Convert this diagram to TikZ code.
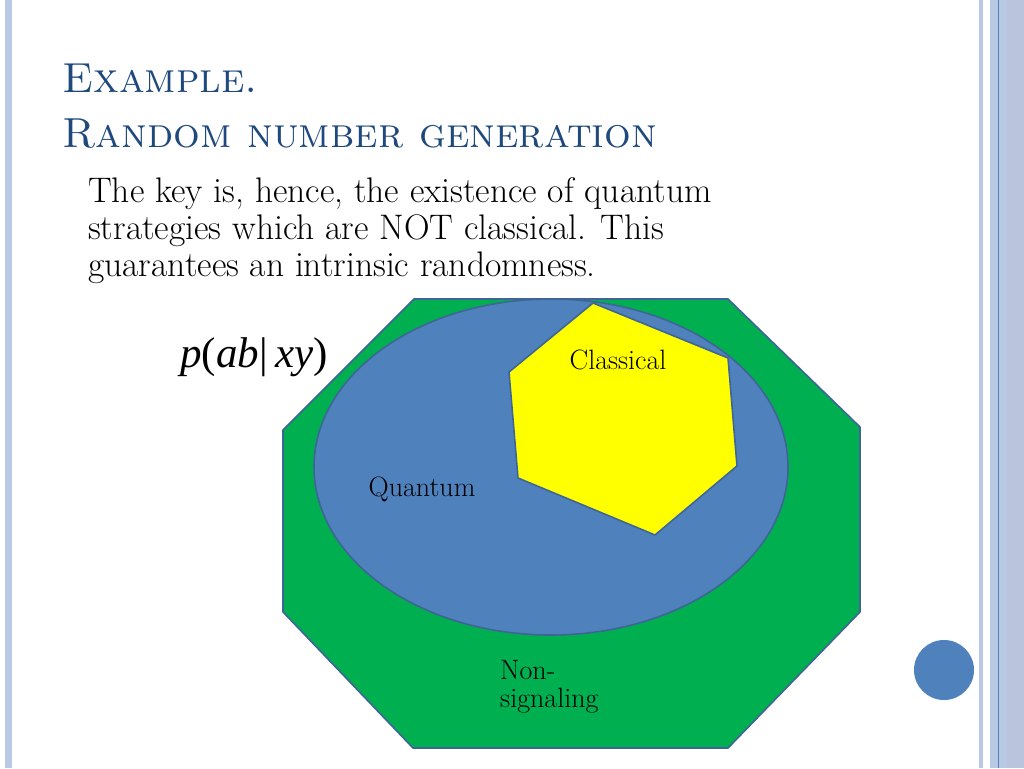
\documentclass[tikz,border=0pt]{standalone}
\usepackage{fontspec}
\newfontfamily\timesfont{Liberation Serif}
\definecolor{titleblue}{HTML}{1F497D}
\definecolor{stripeblue}{HTML}{B9C9E3}
\definecolor{stripegray}{HTML}{BAC5DD}
\definecolor{accentblue}{HTML}{4F81BD}
\definecolor{edgeblue}{HTML}{3E6596}
\definecolor{nsgreen}{HTML}{00B050}
\definecolor{qblue}{HTML}{4F81BD}
\definecolor{clyellow}{HTML}{FFFF00}
\tikzset{
  region/.style={draw=edgeblue, line width=1.6pt, line join=round},
  setlabel/.style={font=\fontsize{28}{28}\selectfont, inner sep=0pt},
  titletext/.style={font=\fontsize{42}{50}\selectfont\scshape, text=titleblue, inner sep=0pt, anchor=base west}
}
\begin{document}
\begin{tikzpicture}[x=1pt, y=-1pt]
    \useasboundingbox (0,0) rectangle (1024,768);
    \fill[white] (0,0) rectangle (1024,768);

    % Slide border
    \fill[stripeblue] (5,0) rectangle (12,768);
    \fill[stripeblue] (979,0) rectangle (983,768);
    \fill[stripeblue] (990,0) rectangle (1007,768);
    \fill[stripegray] (1007,0) rectangle (1024,768);
    \draw[accentblue, line width=1pt] (998,0) -- (998,768);
    \fill[accentblue] (944,670) circle [radius=30];

    % Title and text
    \node[titletext] (title1) at (62,92) {Example.};
    \node[titletext] (title2) at (62,147) {Random number generation};
    \node[font=\fontsize{35.5}{37}\selectfont, align=left, anchor=north west, inner sep=0pt] (body) at (88,177)
        {The key is, hence, the existence of quantum\\
         strategies which are NOT classical. This\\
         guarantees an intrinsic randomness.};

    % Sets of correlations
    \draw[region, fill=nsgreen] (283,430) -- (414,299) -- (728,299) -- (860,427)
        -- (860,612) -- (728,748) -- (413,748) -- (283,612) -- cycle;
    \draw[region, fill=qblue] (551,467) ellipse [x radius=237, y radius=168];
    \draw[region, fill=clyellow] (593,303) -- (728,358) -- (737,466) -- (655,535)
        -- (518,478) -- (509,372) -- cycle;

    \node[font=\timesfont\fontsize{43}{46}\selectfont, inner sep=0pt] (prob) at (254,357)
        {\textit{p}(\textit{ab}|\,\textit{xy})};
    \node[setlabel] (classical) at (618,360) {Classical};
    \node[setlabel] (quantum) at (422,489) {Quantum};
    \node[setlabel, align=left, anchor=north west] (nonsig) at (500,660) {Non-\\signaling};
\end{tikzpicture}
\end{document}
